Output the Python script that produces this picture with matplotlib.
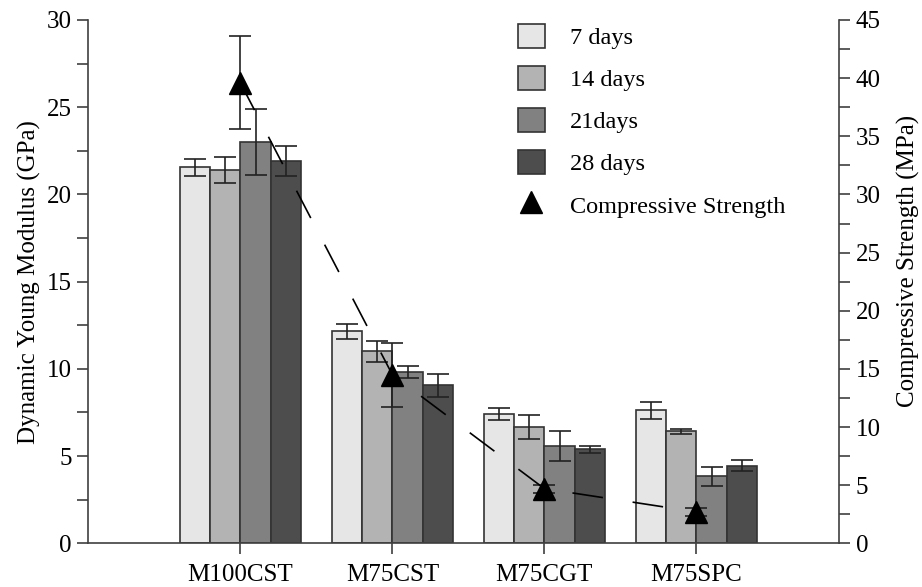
import matplotlib
matplotlib.use("Agg")
import matplotlib.pyplot as plt
import numpy as np
from matplotlib.patches import Patch
from matplotlib.lines import Line2D

plt.rcParams['font.family'] = ['Liberation Serif', 'DejaVu Serif']

categories = ["M100CST", "M75CST", "M75CGT", "M75SPC"]
series_labels = ["7 days", "14 days", "21days", "28 days"]
modulus = {
    "7 days":  [21.55, 12.15, 7.42, 7.63],
    "14 days": [21.40, 11.00, 6.66, 6.42],
    "21days":  [23.00, 9.83, 5.57, 3.83],
    "28 days": [21.90, 9.06, 5.39, 4.46],
}
modulus_err = {
    "7 days":  [0.50, 0.43, 0.33, 0.48],
    "14 days": [0.75, 0.60, 0.67, 0.15],
    "21days":  [1.90, 0.33, 0.85, 0.57],
    "28 days": [0.86, 0.66, 0.19, 0.29],
}
strength = [39.6, 14.5, 4.7, 2.7]
strength_err = [4.0, 2.75, 0.35, 0.35]

bar_colors = ["#e6e6e6", "#b3b3b3", "#818181", "#4d4d4d"]
edge = "#333333"

fig = plt.figure(figsize=(9.22, 5.87), dpi=100)
ax = fig.add_axes([88.3/922, 1-543.3/587, (839.3-88.3)/922, (543.3-20)/587])
ax2 = ax.twinx()

x = np.arange(1, len(categories)+1)
w = 0.2
offsets = [-1.5*w, -0.5*w, 0.5*w, 1.5*w]
for lab, col, off in zip(series_labels, bar_colors, offsets):
    ax.bar(x+off, modulus[lab], width=w, color=col, edgecolor=edge, linewidth=1.2,
           yerr=modulus_err[lab], capsize=8,
           error_kw=dict(ecolor="#222222", elinewidth=1.2, capthick=1.2), zorder=2)

ax.set_xlim(0, 4.94)
ax.set_ylim(0, 30)
ax2.set_ylim(0, 45)
ax.set_xticks(x)
ax.set_xticklabels(categories)
ax.set_yticks(np.arange(0, 31, 5))
ax.set_yticks(np.arange(0, 31, 2.5), minor=True)
ax2.set_yticks(np.arange(0, 46, 5))
ax2.set_yticks(np.arange(0, 46, 2.5), minor=True)

spc = "#404040"
for a in (ax, ax2):
    a.spines['top'].set_visible(False)
    for s in a.spines.values():
        s.set_color(spc)
        s.set_linewidth(1.2)
ax.spines['right'].set_visible(False)
ax2.spines['left'].set_visible(False)
ax2.spines['bottom'].set_visible(False)

fs = 18
ax.tick_params(axis='y', which='both', direction='out', length=8, width=1.2, color=spc, labelsize=fs, pad=4)
ax.tick_params(axis='x', which='both', direction='out', length=8, width=1.2, color=spc, labelsize=fs, pad=7)
ax2.tick_params(axis='y', which='both', direction='out', length=8, width=1.2, color=spc, labelsize=fs, pad=4)

ax.set_ylabel("Dynamic Young Modulus (GPa)", fontsize=18)
ax.yaxis.set_label_coords(-0.063, 0.5)
ax2.set_ylabel("Compressive Strength (MPa)", fontsize=18)
ax2.yaxis.set_label_coords(1.077, 0.54)

ax2.errorbar(x, strength, yerr=strength_err, fmt='none', ecolor="#222222", elinewidth=1.2,
             capsize=8, capthick=1.2, zorder=4)
ln, = ax2.plot(x, strength, color="black", linewidth=1.2, zorder=4)
ln.set_dashes([18.5, 18])
ax2.plot(x, strength, linestyle='none', marker='^', markersize=16, color='black', zorder=5)

handles = [Patch(facecolor=c, edgecolor=edge, linewidth=1.2) for c in bar_colors]
handles.append(Line2D([], [], linestyle='none', marker='^', markersize=16, color='black'))
labels = series_labels + ["Compressive Strength"]
fig.legend(handles, labels, loc='upper left', bbox_to_anchor=(518/922, 1-24/587),
           frameon=False, borderpad=0, borderaxespad=0, fontsize=17.5,
           handlelength=1.1, handleheight=1.15, handletextpad=1.05, labelspacing=0.69)

fig.savefig("out.png", dpi=100)
